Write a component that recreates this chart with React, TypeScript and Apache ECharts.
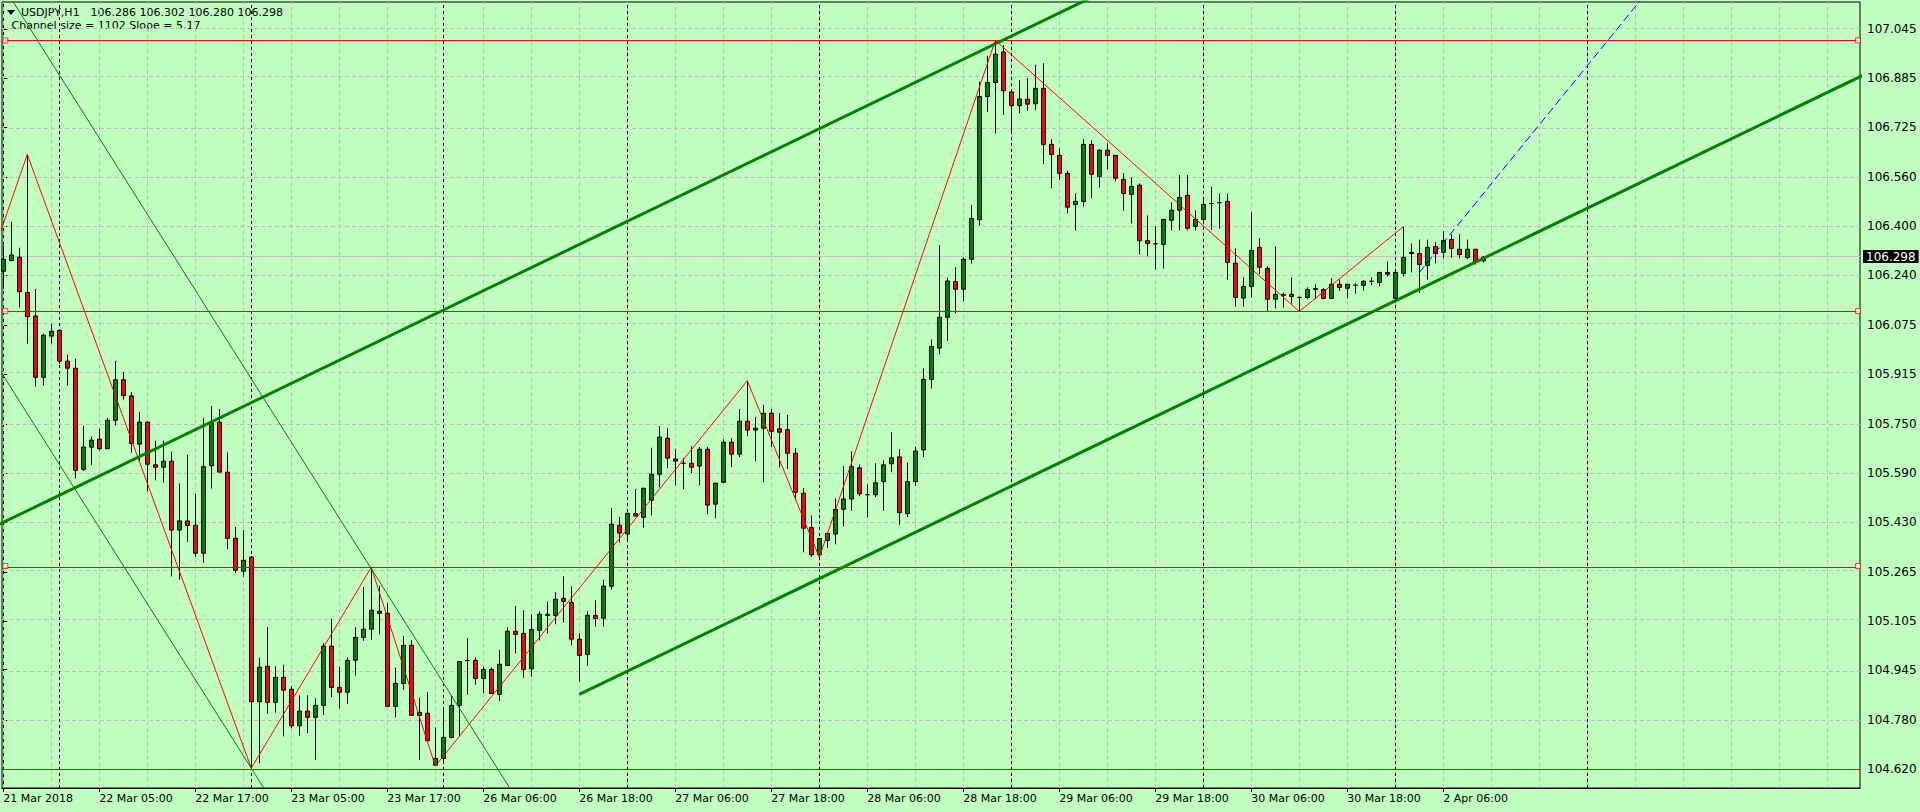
import React, { useEffect, useRef } from "react";
import * as echarts from "echarts";

// ---------- data ----------
const SYMBOL = "USDJPY,H1";
const LAST_OHLC = "106.286 106.302 106.280 106.298";
const CHANNEL_TEXT = "Channel size = 1102 Slope = 5.17";

const X_LABELS = [
  "21 Mar 2018", "22 Mar 05:00", "22 Mar 17:00", "23 Mar 05:00", "23 Mar 17:00",
  "26 Mar 06:00", "26 Mar 18:00", "27 Mar 06:00", "27 Mar 18:00", "28 Mar 06:00",
  "28 Mar 18:00", "29 Mar 06:00", "29 Mar 18:00", "30 Mar 06:00", "30 Mar 18:00",
  "2 Apr 06:00",
];
const BARS_PER_LABEL = 12;

const Y_TICKS = [
  104.62, 104.78, 104.945, 105.105, 105.265, 105.43, 105.59, 105.75,
  105.915, 106.075, 106.24, 106.4, 106.56, 106.725, 106.885, 107.045,
];

const OPEN = [
  106.252, 106.287, 106.298, 106.182, 106.105, 105.904, 106.039, 106.058, 105.957, 105.934,
  105.602, 105.675, 105.701, 105.670, 105.763, 105.896, 105.843, 105.685, 105.757, 105.617,
  105.609, 105.629, 105.403, 105.433, 105.419, 105.327, 105.614, 105.757, 105.593, 105.376,
  105.268, 105.314, 104.840, 104.956, 104.838, 104.920, 104.881, 104.761, 104.809, 104.789,
  104.828, 105.022, 104.887, 104.871, 104.976, 105.051, 105.078, 105.137, 105.130, 104.825,
  104.900, 105.025, 104.795, 104.802, 104.632, 104.654, 104.723, 104.828, 104.975, 104.976,
  104.916, 104.946, 104.864, 104.959, 105.071, 105.064, 104.948, 105.074, 105.123, 105.123,
  105.179, 105.166, 105.045, 104.995, 105.123, 105.114, 105.219, 105.419, 105.390, 105.457,
  105.445, 105.501, 105.586, 105.704, 105.636, 105.622, 105.622, 105.613, 105.668, 105.488,
  105.560, 105.691, 105.652, 105.760, 105.731, 105.737, 105.786, 105.735, 105.732, 105.655,
  105.524, 105.411, 105.322, 105.369, 105.390, 105.471, 105.505, 105.607, 105.519, 105.519,
  105.562, 105.620, 105.643, 105.457, 105.562, 105.666, 105.897, 106.000, 106.101, 106.218,
  106.193, 106.291, 106.421, 106.825, 106.871, 106.971, 106.840, 106.795, 106.816, 106.801,
  106.852, 106.668, 106.632, 106.573, 106.471, 106.481, 106.668, 106.563, 106.649, 106.632,
  106.553, 106.504, 106.534, 106.352, 106.342, 106.340, 106.419, 106.452, 106.501, 106.399,
  106.422, 106.474, 106.477, 106.481, 106.278, 106.164, 106.202, 106.330, 106.261, 106.160,
  106.173, 106.176, 106.166, 106.166, 106.192, 106.192, 106.163, 106.209, 106.196, 106.206,
  106.206, 106.219, 106.215, 106.248, 106.163, 106.245, 106.314, 106.310, 106.271, 106.333,
  106.314, 106.356, 106.324, 106.297, 106.324, 106.286,
];
const HIGH = [
  106.335, 106.414, 106.329, 106.635, 106.194, 106.047, 106.079, 106.060, 105.978, 105.965,
  105.745, 105.709, 105.735, 105.771, 105.958, 105.921, 105.856, 105.791, 105.759, 105.696,
  105.696, 105.660, 105.556, 105.650, 105.522, 105.771, 105.810, 105.800, 105.657, 105.413,
  105.403, 105.318, 104.984, 105.085, 104.956, 104.961, 104.891, 104.861, 104.861, 104.851,
  105.032, 105.112, 104.954, 104.986, 105.084, 105.216, 105.281, 105.220, 105.163, 104.952,
  105.056, 105.042, 104.853, 104.871, 104.756, 104.816, 104.859, 104.972, 105.048, 104.986,
  104.956, 104.952, 105.010, 105.084, 105.154, 105.140, 105.127, 105.136, 105.169, 105.199,
  105.251, 105.218, 105.064, 105.137, 105.173, 105.240, 105.475, 105.446, 105.458, 105.538,
  105.542, 105.673, 105.744, 105.737, 105.668, 105.639, 105.678, 105.675, 105.675, 105.557,
  105.701, 105.704, 105.800, 105.893, 105.774, 105.814, 105.800, 105.786, 105.781, 105.672,
  105.541, 105.451, 105.375, 105.394, 105.507, 105.613, 105.661, 105.618, 105.553, 105.622,
  105.631, 105.723, 105.669, 105.624, 105.677, 105.933, 106.028, 106.337, 106.231, 106.265,
  106.297, 106.470, 106.874, 106.959, 107.009, 106.994, 106.847, 106.879, 106.885, 106.929,
  106.934, 106.685, 106.655, 106.582, 106.507, 106.685, 106.681, 106.652, 106.671, 106.632,
  106.573, 106.560, 106.540, 106.435, 106.399, 106.422, 106.478, 106.567, 106.567, 106.452,
  106.485, 106.529, 106.507, 106.507, 106.327, 106.232, 106.445, 106.360, 106.268, 106.333,
  106.182, 106.232, 106.169, 106.199, 106.209, 106.196, 106.229, 106.225, 106.209, 106.212,
  106.222, 106.232, 106.248, 106.284, 106.248, 106.398, 106.343, 106.356, 106.356, 106.347,
  106.383, 106.373, 106.373, 106.356, 106.324, 106.302,
];
const LOW = [
  106.195, 106.285, 106.133, 106.014, 105.874, 105.877, 106.015, 105.948, 105.877, 105.572,
  105.597, 105.617, 105.664, 105.668, 105.746, 105.831, 105.657, 105.628, 105.530, 105.566,
  105.559, 105.251, 105.240, 105.365, 105.316, 105.296, 105.539, 105.593, 105.340, 105.263,
  105.250, 104.622, 104.638, 104.801, 104.804, 104.726, 104.753, 104.729, 104.737, 104.650,
  104.796, 104.855, 104.818, 104.832, 104.926, 105.040, 105.043, 105.061, 104.825, 104.789,
  104.879, 104.795, 104.649, 104.712, 104.629, 104.643, 104.720, 104.726, 104.863, 104.896,
  104.869, 104.867, 104.843, 104.959, 104.999, 104.919, 104.922, 105.041, 105.064, 105.094,
  105.100, 105.025, 104.906, 104.958, 105.087, 105.087, 105.208, 105.362, 105.374, 105.449,
  105.411, 105.451, 105.543, 105.606, 105.550, 105.537, 105.590, 105.550, 105.455, 105.442,
  105.557, 105.609, 105.642, 105.711, 105.629, 105.560, 105.675, 105.609, 105.603, 105.501,
  105.330, 105.315, 105.313, 105.345, 105.356, 105.415, 105.466, 105.514, 105.445, 105.511,
  105.466, 105.593, 105.420, 105.446, 105.548, 105.643, 105.867, 105.980, 106.023, 106.114,
  106.154, 106.277, 106.401, 106.774, 106.704, 106.765, 106.713, 106.770, 106.778, 106.780,
  106.603, 106.524, 106.551, 106.442, 106.385, 106.464, 106.491, 106.527, 106.586, 106.547,
  106.451, 106.409, 106.307, 106.301, 106.258, 106.261, 106.386, 106.386, 106.386, 106.386,
  106.414, 106.387, 106.392, 106.225, 106.136, 106.136, 106.166, 106.242, 106.120, 106.130,
  106.133, 106.146, 106.120, 106.160, 106.160, 106.160, 106.163, 106.188, 106.163, 106.179,
  106.189, 106.206, 106.202, 106.235, 106.150, 106.235, 106.248, 106.181, 106.225, 106.278,
  106.294, 106.297, 106.294, 106.291, 106.274, 106.280,
];
const CLOSE = [
  106.291, 106.305, 106.185, 106.103, 105.904, 106.042, 106.055, 105.957, 105.934, 105.599,
  105.675, 105.698, 105.670, 105.763, 105.896, 105.844, 105.687, 105.757, 105.619, 105.609,
  105.629, 105.403, 105.433, 105.418, 105.327, 105.611, 105.755, 105.593, 105.376, 105.271,
  105.304, 104.840, 104.953, 104.838, 104.920, 104.878, 104.761, 104.809, 104.789, 104.828,
  105.022, 104.887, 104.871, 104.976, 105.051, 105.078, 105.140, 105.130, 104.825, 104.900,
  105.025, 104.795, 104.805, 104.712, 104.654, 104.723, 104.828, 104.972, 104.975, 104.916,
  104.946, 104.867, 104.963, 105.071, 105.061, 104.946, 105.077, 105.127, 105.127, 105.176,
  105.169, 105.045, 104.992, 105.123, 105.113, 105.219, 105.422, 105.393, 105.458, 105.449,
  105.540, 105.586, 105.708, 105.639, 105.629, 105.622, 105.609, 105.668, 105.485, 105.557,
  105.691, 105.652, 105.760, 105.731, 105.737, 105.786, 105.727, 105.724, 105.655, 105.527,
  105.409, 105.322, 105.375, 105.392, 105.471, 105.505, 105.611, 105.522, 105.519, 105.558,
  105.617, 105.640, 105.460, 105.562, 105.662, 105.897, 106.005, 106.101, 106.220, 106.193,
  106.291, 106.425, 106.825, 106.871, 106.964, 106.844, 106.795, 106.817, 106.800, 106.852,
  106.668, 106.635, 106.573, 106.462, 106.481, 106.668, 106.570, 106.649, 106.632, 106.557,
  106.507, 106.530, 106.352, 106.343, 106.342, 106.422, 106.452, 106.494, 106.393, 106.422,
  106.471, 106.474, 106.477, 106.281, 106.166, 106.202, 106.320, 106.265, 106.160, 106.176,
  106.176, 106.169, 106.166, 106.192, 106.195, 106.163, 106.209, 106.199, 106.209, 106.206,
  106.219, 106.219, 106.248, 106.242, 106.248, 106.297, 106.310, 106.274, 106.330, 106.310,
  106.353, 106.327, 106.307, 106.324, 106.284, 106.298,
];

// drawn objects: [bar index, price]
const ZIGZAG = [
  [-5, 106.03], [3, 106.635], [31, 104.622], [46, 105.281], [54, 104.629],
  [93, 105.893], [102, 105.313], [124, 107.009], [162, 106.12], [175, 106.398],
];
const UPPER_CHANNEL = [[-5, 105.365], [150, 107.327]];
const LOWER_CHANNEL = [[72, 104.864], [240, 106.99]];
const DOWN_LINE_A = [[-10, 106.325], [45, 104.04]];
const DOWN_LINE_B = [[-2, 107.27], [70, 104.279]];
const BLUE_RAY = [[177, 106.248], [215, 107.475]];
const LEVELS = [107.009, 106.121, 105.285, 104.623];
const LEVELS_WITH_HANDLES = [107.009, 106.121, 105.285];
const SEPARATORS = [7, 31, 55, 78, 102, 126, 150, 174, 198];
const BID = 106.298;

// ---------- layout ----------
const W = 1920;
const H = 812;
const BAR_PX = 8;
const GRID_LEFT = 2;
const GRID_RIGHT = 60;
const GRID_TOP = 2;
const GRID_BOTTOM = 24;
const X_MIN = -0.1625;
const X_MAX = X_MIN + (W - GRID_LEFT - GRID_RIGHT) / BAR_PX;
const Y_MIN = 104.557;
const Y_MAX = 107.135;
const HANDLE_L = 0.25;
const HANDLE_R = 231.85;
const FONT = '"DejaVu Sans", Tahoma, sans-serif';
const BG = "#C0FFC0";

export default function App() {
  const ref = useRef<HTMLDivElement>(null);

  useEffect(() => {
    if (!ref.current) return;
    const chart = echarts.init(ref.current, undefined, { renderer: "svg" });

    const candles = OPEN.map((o, i) => [i, o, CLOSE[i], LOW[i], HIGH[i]]);
    const labelIdx = X_LABELS.map((_, k) => k * BARS_PER_LABEL);
    const vGrid: number[] = [];
    for (let v = 0; v <= X_MAX; v += 6) vGrid.push(v);

    const lineSeries = (data: number[][], color: string, width: number, type: any, z: number) => ({
      type: "line",
      data,
      showSymbol: false,
      symbol: "none",
      silent: true,
      clip: true,
      z,
      lineStyle: { color, width, type },
    });

    const handles: number[][] = [];
    LEVELS_WITH_HANDLES.forEach((p) => {
      handles.push([HANDLE_L, p]);
      handles.push([HANDLE_R, p]);
    });

    const option: any = {
      animation: false,
      backgroundColor: "transparent",
      grid: {
        left: GRID_LEFT,
        right: GRID_RIGHT,
        top: GRID_TOP,
        bottom: GRID_BOTTOM,
        show: true,
        borderColor: "#000",
        borderWidth: 1,
        backgroundColor: "transparent",
        containLabel: false,
        outerBoundsMode: "none",
      },
      xAxis: {
        type: "value",
        min: X_MIN,
        max: X_MAX,
        position: "bottom",
        axisLine: { show: true, lineStyle: { color: "#000", width: 1 } },
        axisTick: {
          show: true,
          customValues: labelIdx,
          length: 4,
          inside: false,
          lineStyle: { color: "#000" },
        },
        axisLabel: {
          customValues: labelIdx,
          formatter: (v: number) => X_LABELS[Math.round(v / BARS_PER_LABEL)] ?? "",
          align: "left",
          margin: 5,
          color: "#000",
          fontFamily: FONT,
          fontSize: 11,
        },
        splitLine: { show: false },
      },
      yAxis: {
        type: "value",
        position: "right",
        min: Y_MIN,
        max: Y_MAX,
        axisLine: { show: true, lineStyle: { color: "#000", width: 1 } },
        axisTick: {
          show: true,
          customValues: Y_TICKS,
          length: 4,
          inside: false,
          lineStyle: { color: "#000" },
        },
        axisLabel: {
          customValues: Y_TICKS,
          formatter: (v: number) => v.toFixed(3),
          margin: 7,
          color: "#000",
          fontFamily: FONT,
          fontSize: 12,
        },
        splitLine: { show: false },
      },
      series: [
        {
          type: "line",
          data: [],
          silent: true,
          markLine: {
            silent: true,
            z: 1,
            symbol: ["none", "none"],
            label: { show: false },
            lineStyle: { color: "#BDBDBD", type: [4, 3], width: 1 },
            data: [
              ...Y_TICKS.map((v) => ({ yAxis: v })),
              ...vGrid.map((v) => ({ xAxis: v })),
            ],
          },
        },
        {
          type: "line",
          data: [],
          silent: true,
          markLine: {
            silent: true,
            z: 1,
            symbol: ["none", "none"],
            label: { show: false },
            lineStyle: { color: "#000", type: [3, 3], width: 1 },
            data: SEPARATORS.map((v) => ({ xAxis: v })),
          },
        },
        {
          type: "line",
          data: [],
          silent: true,
          markLine: {
            silent: true,
            z: 1,
            symbol: ["none", "none"],
            lineStyle: { color: "#C0C0C0", type: "solid", width: 1 },
            label: {
              show: true,
              position: "end",
              formatter: BID.toFixed(3),
              color: "#FFFFFF",
              backgroundColor: "#000000",
              padding: [1, 3, 0, 3],
              distance: 3,
              fontFamily: FONT,
              fontSize: 12,
              lineHeight: 12,
            },
            data: [{ yAxis: BID }],
          },
        },
        {
          type: "candlestick",
          data: candles,
          barWidth: 4,
          silent: true,
          z: 2,
          itemStyle: {
            color: "#008000",
            color0: "#FF0000",
            borderColor: "#000000",
            borderColor0: "#000000",
            borderColorDoji: "#000000",
            borderWidth: 1,
          },
        },
        {
          type: "line",
          data: [],
          silent: true,
          markLine: {
            silent: true,
            z: 3,
            symbol: ["none", "none"],
            label: { show: false },
            lineStyle: { color: "#FF0000", type: "solid", width: 1 },
            data: LEVELS.map((v) => ({ yAxis: v })),
          },
        },
        lineSeries(ZIGZAG, "#FF0000", 1, "solid", 3),
        lineSeries(DOWN_LINE_A, "#008000", 1, "solid", 3),
        lineSeries(DOWN_LINE_B, "#008000", 1, "solid", 3),
        lineSeries(UPPER_CHANNEL, "#008000", 3, "solid", 3),
        lineSeries(LOWER_CHANNEL, "#008000", 3, "solid", 3),
        lineSeries(BLUE_RAY, "#0000FF", 1, [8, 4], 3),
        {
          type: "scatter",
          data: handles,
          symbol: "rect",
          symbolSize: [5, 5],
          silent: true,
          z: 4,
          itemStyle: { color: "#FFFFFF", borderColor: "#FF0000", borderWidth: 1 },
        },
      ],
      graphic: [
        {
          type: "polygon",
          shape: { points: [[7, 10], [15, 10], [11, 15]] },
          style: { fill: "#000" },
        },
        {
          type: "text",
          x: 21,
          y: 12.5,
          style: { text: SYMBOL, fontFamily: FONT, fontSize: 11, fill: "#000", verticalAlign: "middle" },
        },
        {
          type: "text",
          x: 90.5,
          y: 12.5,
          style: { text: LAST_OHLC, fontFamily: FONT, fontSize: 11, fill: "#000", verticalAlign: "middle" },
        },
        {
          type: "text",
          x: 11.5,
          y: 25,
          style: { text: CHANNEL_TEXT, fontFamily: FONT, fontSize: 11, fill: "#000", verticalAlign: "middle" },
        },
      ],
    };

    chart.setOption(option);
    return () => chart.dispose();
  }, []);

  return (
    <div
      style={{ position: "fixed", left: 0, top: 0, width: W, height: H, background: BG, margin: 0 }}
    >
      <div ref={ref} style={{ width: W, height: H }} />
    </div>
  );
}
